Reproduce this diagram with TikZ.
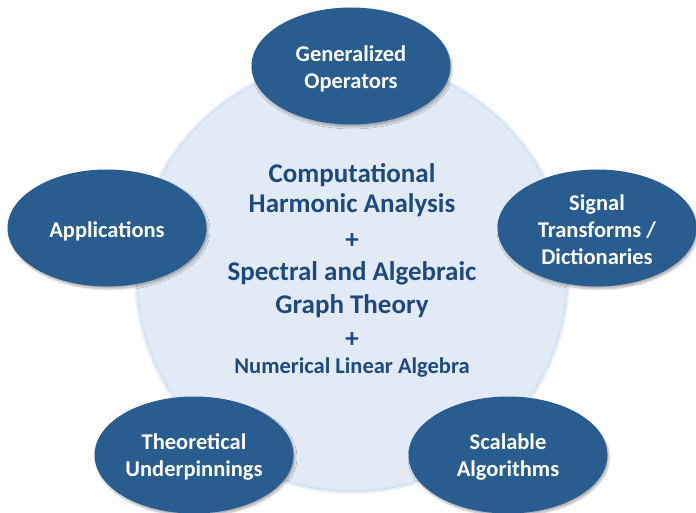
\documentclass[tikz,border=0pt]{standalone}
\usepackage{fontspec}
\setmainfont{Carlito}
\usetikzlibrary{shapes.geometric,shadows.blur}
\definecolor{ellfill}{HTML}{295C8F}
\definecolor{ctext}{HTML}{1F497D}
\definecolor{cin}{HTML}{E2EBF5}
\definecolor{cedge}{HTML}{B0C8E2}
\pgfdeclareradialshading{bigshade}{\pgfpoint{0bp}{0bp}}{color(0bp)=(cin); color(39bp)=(cin); color(49bp)=(cedge); color(50bp)=(cedge!85!white); color(100bp)=(white)}
\tikzset{
  topic/.style={ellipse, fill=ellfill, minimum width=199pt, minimum height=117pt, inner sep=0pt,
    blur shadow={shadow xshift=1.5pt, shadow yshift=-2.5pt, shadow opacity=30, shadow blur steps=6}},
  topictext/.style={text=white, inner sep=0pt, align=center, font=\bfseries\fontsize{22.5}{27}\selectfont},
  ctr/.style={text=ctext, anchor=base, inner sep=0pt, font=\bfseries\fontsize{27}{32}\selectfont},
  ctrsmall/.style={text=ctext, anchor=base, inner sep=0pt, font=\bfseries\fontsize{22.5}{24}\selectfont}
}
\begin{document}
\begin{tikzpicture}[x=1pt,y=-1pt]
\useasboundingbox (0,0) rectangle (696,513);
% halo
\fill[cedge, opacity=0.25] (352,276) circle (218);
\fill[cedge, opacity=0.35] (352,276) circle (216);
\shade[shading=bigshade] (352,276) circle (214);
% center text
\node[ctr] (c1) at (352,183) {Computational};
\node[ctr] (c2) at (352,213) {Harmonic Analysis};
\node[ctr] (c3) at (352,248) {+};
\node[ctr] (c4) at (352,280) {Spectral and Algebraic};
\node[ctr] (c5) at (352,313) {Graph Theory};
\node[ctr] (c6) at (352,347) {+};
\node[ctrsmall] (c7) at (352,373) {Numerical Linear Algebra};
% topics
\node[topic] (gen) at (351,66) {};
\node[topic] (app) at (107,228) {};
\node[topic] (sig) at (597,228) {};
\node[topic] (the) at (194,455) {};
\node[topic] (sca) at (508,455) {};
\node[topictext] (gent) at ([yshift=-3pt]gen.center) {Generalized\\Operators};
\node[topictext] (appt) at ([yshift=-3pt]app.center) {Applications};
\node[topictext] (sigt) at ([yshift=-2pt]sig.center) {Signal\\Transforms /\\Dictionaries};
\node[topictext] (thet) at ([yshift=-2pt]the.center) {Theoretical\\Underpinnings};
\node[topictext] (scat) at ([yshift=-2pt]sca.center) {Scalable\\Algorithms};
\end{tikzpicture}
\end{document}
